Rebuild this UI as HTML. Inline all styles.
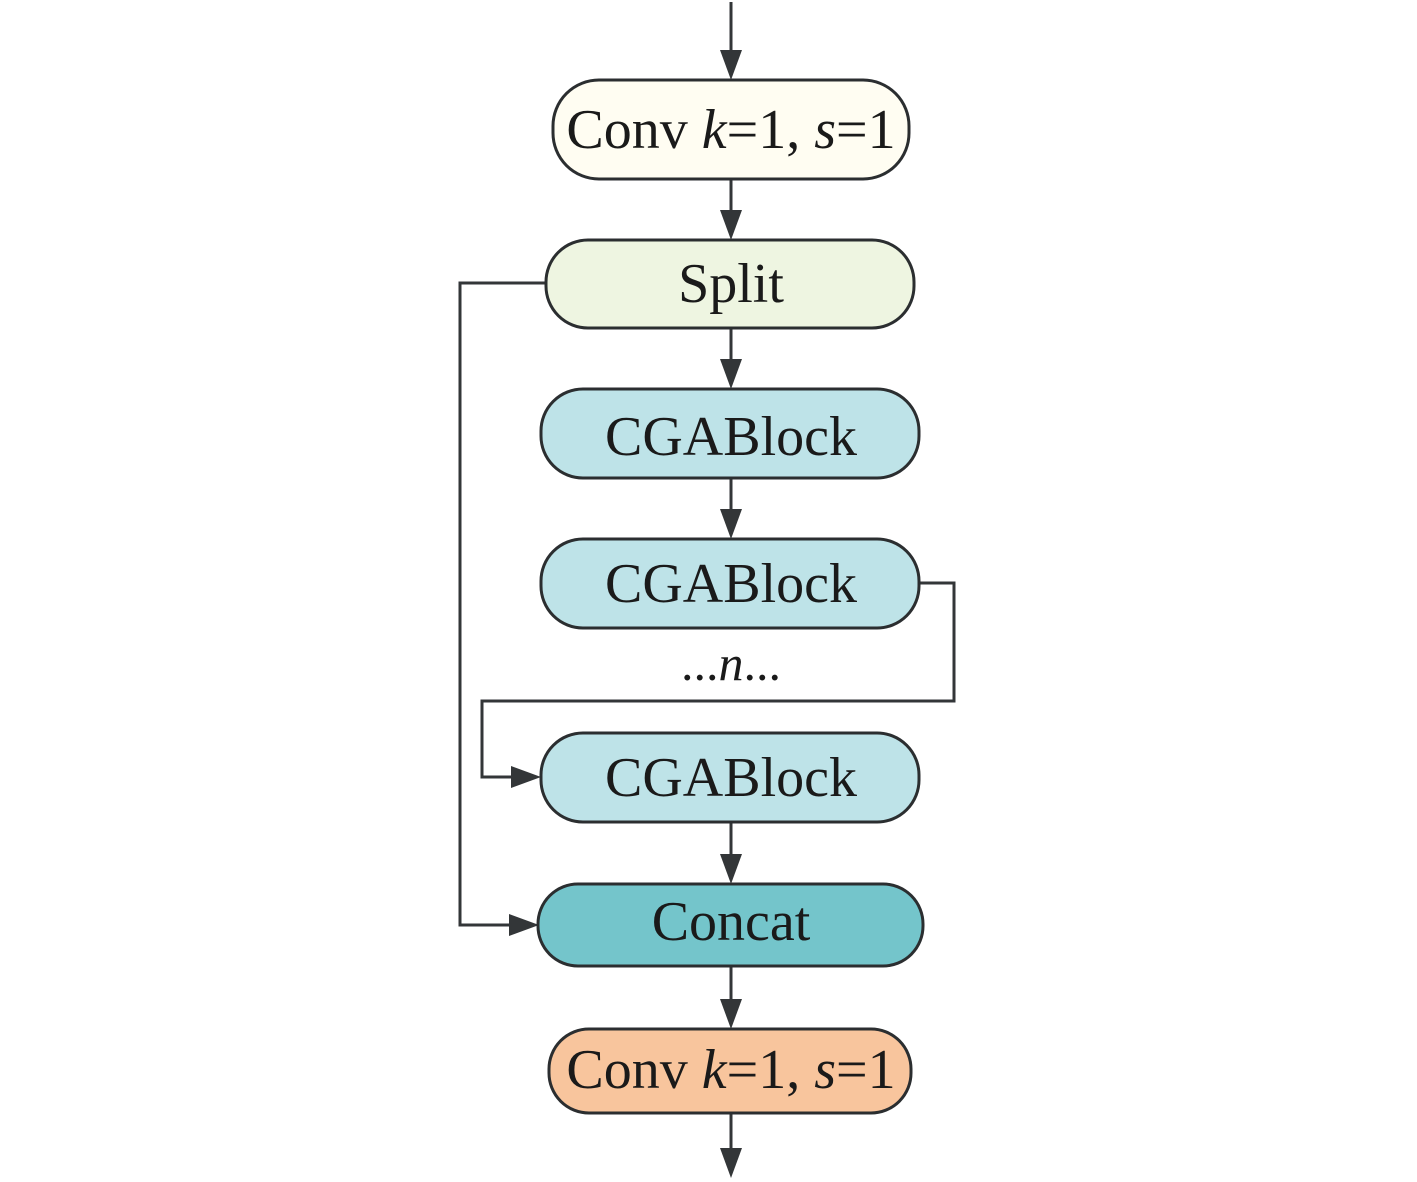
<!DOCTYPE html>
<html><head><meta charset="utf-8"><style>html,body{margin:0;padding:0;background:#fff}svg{display:block}</style></head>
<body>
<svg width="1417" height="1182" viewBox="0 0 1417 1182" xmlns="http://www.w3.org/2000/svg" font-family="Liberation Serif, serif" fill="#1a1a1a">
<g stroke="#333638" stroke-width="3" fill="none">
<line x1="731" y1="2" x2="731" y2="55"/>
<line x1="731" y1="179" x2="731" y2="215"/>
<line x1="731" y1="328" x2="731" y2="364"/>
<line x1="731" y1="478" x2="731" y2="514"/>
<line x1="731" y1="822" x2="731" y2="859"/>
<line x1="731" y1="966" x2="731" y2="1004"/>
<line x1="731" y1="1113" x2="731" y2="1152"/>
<polyline points="546,283 460,283 460,925 512,925"/>
<polyline points="919,583 954,583 954,701 482,701 482,777 515,777"/>
</g>
<g fill="#333638">
<polygon points="720,50 742,50 731,80"/>
<polygon points="720,210 742,210 731,240"/>
<polygon points="720,359 742,359 731,389"/>
<polygon points="720,509 742,509 731,539"/>
<polygon points="720,854 742,854 731,884"/>
<polygon points="720,999 742,999 731,1029"/>
<polygon points="720,1148 742,1148 731,1178"/>
<polygon points="509,914 509,936 539,925"/>
<polygon points="511,766 511,788 541,777"/>
</g>
<g stroke="#2b2e30" stroke-width="3">
<rect x="553" y="80" width="356" height="99" rx="46" fill="#fffdf2"/>
<rect x="546" y="240" width="368" height="88" rx="42" fill="#eef5e1"/>
<rect x="541" y="389" width="378" height="89" rx="42" fill="#bee3e8"/>
<rect x="541" y="539" width="378" height="89" rx="42" fill="#bee3e8"/>
<rect x="541" y="733" width="378" height="89" rx="42" fill="#bee3e8"/>
<rect x="538" y="884" width="385" height="82" rx="40" fill="#74c5cb"/>
<rect x="549" y="1029" width="362" height="84" rx="40" fill="#f8c59d"/>
</g>
<g font-size="56" text-anchor="middle">
<text x="731" y="148">Conv <tspan font-style="italic">k</tspan>=1, <tspan font-style="italic">s</tspan>=1</text>
<text x="731" y="302">Split</text>
<text x="731" y="455">CGABlock</text>
<text x="731" y="602">CGABlock</text>
<text x="731" y="796">CGABlock</text>
<text x="731" y="940">Concat</text>
<text x="731" y="1088">Conv <tspan font-style="italic">k</tspan>=1, <tspan font-style="italic">s</tspan>=1</text>
<text x="731" y="680" font-size="50">...<tspan font-style="italic">n</tspan>...</text>
</g>
</svg>
</body></html>
